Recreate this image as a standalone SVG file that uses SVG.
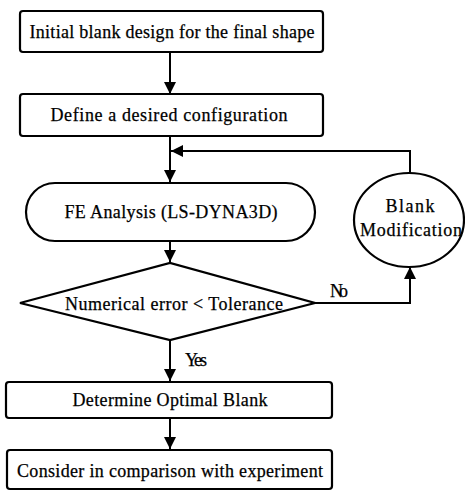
<svg xmlns="http://www.w3.org/2000/svg" width="465" height="491" viewBox="0 0 465 491">
<style>
.s{fill:#fff;stroke:#000;stroke-width:2.2}
.t{font-family:"Liberation Serif",serif;font-size:18px;fill:#000;stroke:#000;stroke-width:0.25;text-anchor:middle}
.c{fill:none;stroke:#000;stroke-width:2}
</style>
<defs>
<marker id="a" viewBox="0 0 12 12" refX="12" refY="6" markerWidth="12" markerHeight="12" orient="auto" markerUnits="userSpaceOnUse">
<path d="M0,0 L12,6 L0,12 Z" fill="#000"/>
</marker>
</defs>
<rect width="465" height="491" fill="#fff"/>
<g id="connectors">
<path class="c" d="M170,52 V94" marker-end="url(#a)"/>
<path class="c" d="M170,136 V182" marker-end="url(#a)"/>
<path class="c" d="M410,173 V151 H171" marker-end="url(#a)"/>
<path class="c" d="M170,241 V262" marker-end="url(#a)"/>
<path class="c" d="M315,303 H410 V267" marker-end="url(#a)"/>
<path class="c" d="M170,340 V381" marker-end="url(#a)"/>
<path class="c" d="M170,418 V449" marker-end="url(#a)"/>
<text class="t" x="339" y="297" textLength="18">No</text>
<text class="t" x="196" y="366" textLength="22">Yes</text>
</g>
<g id="n1">
<rect class="s" x="20" y="11" width="303" height="41" rx="3"/>
<text class="t" x="172" y="38" textLength="285">Initial blank design for the final shape</text>
</g>
<g id="n2">
<rect class="s" x="20" y="94" width="303" height="42" rx="3"/>
<text class="t" x="169" y="121" textLength="237">Define a desired configuration</text>
</g>
<g id="n3">
<rect class="s" x="26" y="183" width="289" height="58" rx="29" ry="29"/>
<text class="t" x="171" y="218" textLength="213">FE Analysis (LS-DYNA3D)</text>
</g>
<g id="n4">
<ellipse class="s" cx="409" cy="220" rx="55" ry="47"/>
<text class="t" x="410" y="212" textLength="49">Blank</text>
<text class="t" x="411" y="236" textLength="102">Modification</text>
</g>
<g id="n5">
<polygon class="s" points="20,303 170,263 315,303 170,340"/>
<text class="t" x="174" y="310" textLength="218">Numerical error &lt; Tolerance</text>
</g>
<g id="n6">
<rect class="s" x="6" y="382" width="326" height="36" rx="3"/>
<text class="t" x="170" y="406" textLength="195">Determine Optimal Blank</text>
</g>
<g id="n7">
<rect class="s" x="7" y="450" width="325" height="39" rx="3"/>
<text class="t" x="170" y="477" textLength="306">Consider in comparison with experiment</text>
</g>
</svg>
